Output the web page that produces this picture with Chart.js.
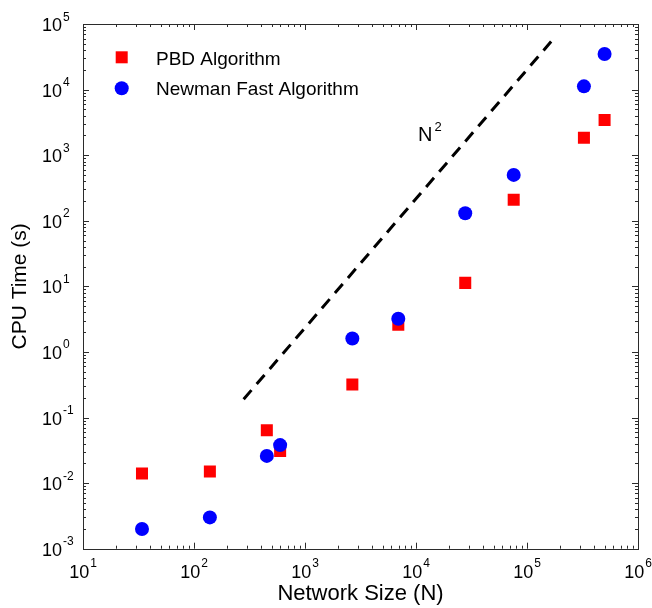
<!DOCTYPE html>
<html>
<head>
<meta charset="utf-8">
<script src="https://cdn.jsdelivr.net/npm/chart.js@4/dist/chart.umd.min.js"></script>
<style>
  html, body { margin: 0; padding: 0; background: #ffffff; }
  #wrap { width: 652px; height: 608px; }
</style>
</head>
<body>
<div id="wrap"><canvas id="cpu"></canvas></div>
<script>
// Network sizes shared by both algorithms
const networkSizes = [34, 139, 453, 597, 2670, 6927, 27770, 75880, 325730, 500000];
// CPU time in seconds
const pbdTimes = [0.014, 0.015, 0.064, 0.031, 0.32, 2.6, 11.3, 209, 1840, 3430];
const newmanTimes = [0.002, 0.003, 0.026, 0.038, 1.6, 3.2, 130, 500, 11200, 34800];
// N^2 reference guide endpoints
const guideSizes = [280, 165000];
const guideTimes = [0.19, 54000];
// Decade exponents used for the tick labels
const xExponents = [1, 2, 3, 4, 5, 6];
const yExponents = [-3, -2, -1, 0, 1, 2, 3, 4, 5];
const seriesNames = ['PBD Algorithm', 'Newman Fast Algorithm'];

const FONT = '"Liberation Sans", Arial, Helvetica, sans-serif';
const AXIS_COLOR = '#2b2b2b';

const toPoints = (xs, ys) => xs.map((x, i) => ({ x: x, y: ys[i] }));

// Boxed axes with inward minor/major ticks, power-of-ten labels,
// axis titles, the N^2 annotation and an in-plot legend.
const axisDecor = {
  id: 'axisDecor',
  afterDraw(chart) {
    const ctx = chart.ctx;
    const xs = chart.scales.x, ys = chart.scales.y;
    const a = chart.chartArea;
    ctx.save();

    // frame
    ctx.strokeStyle = AXIS_COLOR;
    ctx.lineWidth = 1;
    ctx.strokeRect(Math.round(a.left) + 0.5, Math.round(a.top) + 0.5,
                   Math.round(a.right - a.left), Math.round(a.bottom - a.top));

    // ticks
    ctx.beginPath();
    for (let k = xExponents[0]; k < xExponents[xExponents.length - 1] + 1; k++) {
      for (let m = 1; m <= 9; m++) {
        const v = m * Math.pow(10, k);
        if (v < xs.min || v > xs.max) continue;
        const px = Math.round(xs.getPixelForValue(v)) + 0.5;
        const len = m === 1 ? 6 : 3;
        ctx.moveTo(px, a.bottom); ctx.lineTo(px, a.bottom - len);
        ctx.moveTo(px, a.top); ctx.lineTo(px, a.top + len);
      }
    }
    for (let k = yExponents[0]; k < yExponents[yExponents.length - 1] + 1; k++) {
      for (let m = 1; m <= 9; m++) {
        const v = m * Math.pow(10, k);
        if (v < ys.min * 0.999 || v > ys.max * 1.001) continue;
        const py = Math.round(ys.getPixelForValue(v)) + 0.5;
        const len = m === 1 ? 6 : 3;
        ctx.moveTo(a.left, py); ctx.lineTo(a.left + len, py);
        ctx.moveTo(a.right, py); ctx.lineTo(a.right - len, py);
      }
    }
    ctx.stroke();

    // tick labels
    ctx.fillStyle = '#000000';
    const baseFont = '18px ' + FONT;
    const supFont = '12px ' + FONT;
    ctx.textBaseline = 'alphabetic';
    xExponents.forEach(e => {
      const px = xs.getPixelForValue(Math.pow(10, e));
      ctx.font = baseFont;
      const w1 = ctx.measureText('10').width;
      ctx.font = supFont;
      const w2 = ctx.measureText(String(e)).width;
      const start = px - (w1 + w2 + 1) / 2;
      ctx.textAlign = 'left';
      ctx.font = baseFont;
      ctx.fillText('10', start, a.bottom + 29.5);
      ctx.font = supFont;
      ctx.fillText(String(e), start + w1 + 1, a.bottom + 18.5);
    });
    yExponents.forEach(e => {
      const py = ys.getPixelForValue(Math.pow(10, e));
      ctx.font = baseFont;
      ctx.textAlign = 'right';
      ctx.fillText('10', a.left - 21, py + 7);
      ctx.font = supFont;
      ctx.textAlign = 'left';
      ctx.fillText(String(e), a.left - 20, py - 3.5);
    });

    // axis titles
    ctx.font = '22px ' + FONT;
    ctx.textAlign = 'center';
    ctx.fillText('Network Size (N)', (a.left + a.right) / 2, 600);
    ctx.save();
    ctx.translate(25.5, (a.top + a.bottom) / 2);
    ctx.rotate(-Math.PI / 2);
    ctx.font = '21px ' + FONT;
    ctx.fillText('CPU Time (s)', 0, 0);
    ctx.restore();

    // N^2 annotation
    ctx.textAlign = 'left';
    ctx.font = '20px ' + FONT;
    ctx.fillText('N', 418, 141);
    ctx.font = '13px ' + FONT;
    ctx.fillText('2', 434.5, 131);

    // legend
    const ds = chart.data.datasets;
    ctx.font = '19px ' + FONT;
    ctx.fillStyle = ds[0].backgroundColor;
    ctx.fillRect(115.7, 51.3, 12, 12);
    ctx.fillStyle = ds[1].backgroundColor;
    ctx.beginPath();
    ctx.arc(121.7, 88.3, 7, 0, Math.PI * 2);
    ctx.fill();
    ctx.fillStyle = '#000000';
    ctx.fillText(seriesNames[0], 156, 65);
    ctx.fillText(seriesNames[1], 156, 94.5);

    ctx.restore();
  }
};

new Chart(document.getElementById('cpu'), {
  type: 'scatter',
  data: {
    datasets: [
      {
        label: seriesNames[0],
        data: toPoints(networkSizes, pbdTimes),
        pointStyle: 'rect',
        pointRadius: 8.5,
        backgroundColor: '#ff0000',
        borderColor: '#ff0000',
        borderWidth: 0,
        order: 2
      },
      {
        label: seriesNames[1],
        data: toPoints(networkSizes, newmanTimes),
        pointStyle: 'circle',
        pointRadius: 7,
        backgroundColor: '#0000ff',
        borderColor: '#0000ff',
        borderWidth: 0,
        order: 1
      },
      {
        label: 'N^2',
        type: 'line',
        data: toPoints(guideSizes, guideTimes),
        borderColor: '#000000',
        borderWidth: 3,
        borderDash: [12, 8],
        borderCapStyle: 'butt',
        pointRadius: 0,
        fill: false,
        order: 3
      }
    ]
  },
  options: {
    responsive: true,
    maintainAspectRatio: false,
    animation: false,
    events: [],
    layout: { padding: { left: 83, top: 24, right: 14, bottom: 59.3 } },
    plugins: { legend: { display: false }, tooltip: { enabled: false } },
    scales: {
      x: { type: 'logarithmic', min: 10, max: 1e6, display: false },
      y: { type: 'logarithmic', min: 1e-3, max: 1e5, display: false }
    }
  },
  plugins: [axisDecor]
});
</script>
</body>
</html>
